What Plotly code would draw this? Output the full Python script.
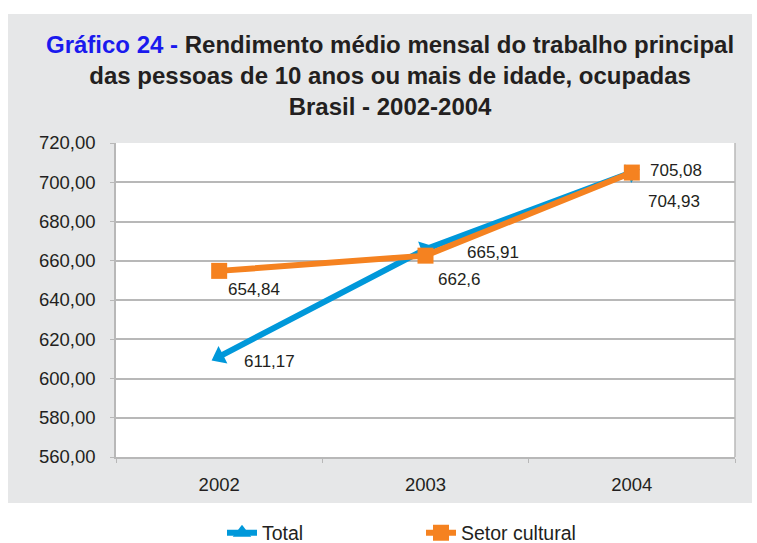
import plotly.graph_objects as go

years = ["2002", "2003", "2004"]
total = [611.17, 665.91, 705.08]
cultural = [654.84, 662.6, 704.93]
total_labels = ["611,17", "665,91", "705,08"]
cultural_labels = ["654,84", "662,6", "704,93"]
y_ticks = [560, 580, 600, 620, 640, 660, 680, 700, 720]
y_tick_text = ["560,00", "580,00", "600,00", "620,00", "640,00", "660,00", "680,00", "700,00", "720,00"]

BLUE = "#0098da"
ORANGE = "#f58220"
TXT = "#231f20"
GRAY = "#e6e7e8"
AX = "#b8b8b8"
FONT = "Liberation Sans, Arial, sans-serif"

W, H = 757, 543
L, R, T, B = 116, 22, 143, 86
pw, ph = W - L - R, H - T - B

def px_x(p):
    return (p - L) / pw

def px_y(p):
    return (H - B - p) / ph

fig = go.Figure()
fig.add_trace(go.Scatter(
    x=years, y=total, name="Total", mode="lines+markers", showlegend=False,
    line=dict(color=BLUE, width=6),
    marker=dict(symbol="triangle-up", size=17, color=BLUE, angle=[243, 70, 70]),
))
fig.add_trace(go.Scatter(
    x=years, y=cultural, name="Setor cultural", mode="lines+markers", showlegend=False,
    line=dict(color=ORANGE, width=6),
    marker=dict(symbol="square", size=16, color=ORANGE),
))
# legend entries (unrotated symbols)
fig.add_trace(go.Scatter(x=[None], y=[None], name="Total", mode="lines+markers",
                         line=dict(color=BLUE, width=6),
                         marker=dict(symbol="triangle-up", size=17, color=BLUE, angle=0)))
fig.add_trace(go.Scatter(x=[None], y=[None], name="Setor cultural", mode="lines+markers",
                         line=dict(color=ORANGE, width=6),
                         marker=dict(symbol="square", size=16, color=ORANGE)))

# data labels (offsets per point); x given as category index
t_off = [(23, -5), (39, -3), (16, 2)]
c_off = [(7, -19), (10, -24), (14, -29)]
for i, yr in enumerate(years):
    fig.add_annotation(x=i, y=total[i], text=total_labels[i], showarrow=False,
                       xanchor="left", yanchor="middle", xshift=t_off[i][0], yshift=t_off[i][1],
                       font=dict(size=17, color=TXT, family=FONT))
    fig.add_annotation(x=i, y=cultural[i], text=cultural_labels[i], showarrow=False,
                       xanchor="left", yanchor="middle", xshift=c_off[i][0], yshift=c_off[i][1],
                       font=dict(size=17, color=TXT, family=FONT))

fig.add_annotation(
    xref="paper", yref="paper", x=px_x(390), y=px_y(76), xanchor="center", yanchor="middle",
    showarrow=False, align="center",
    text=("<span style='color:#1a1aee'>Gráfico 24 -</span> Rendimento médio mensal do trabalho principal"
          "<br>das pessoas de 10 anos ou mais de idade, ocupadas<br>Brasil - 2002-2004"),
    font=dict(size=24, color=TXT, family=FONT, weight="bold"),
)

fig.update_layout(
    width=W, height=H,
    margin=dict(l=L, r=R, t=T, b=B, autoexpand=False),
    paper_bgcolor="white", plot_bgcolor="white",
    showlegend=True,
    legend=dict(orientation="h", x=px_x(222), y=px_y(533), xanchor="left", yanchor="middle",
                font=dict(size=19.5, color=TXT, family=FONT), entrywidth=154, bgcolor="rgba(0,0,0,0)"),
    shapes=[
        dict(type="rect", xref="paper", yref="paper", x0=px_x(8), x1=px_x(752), y0=px_y(503), y1=px_y(14),
             fillcolor=GRAY, line=dict(width=0), layer="below"),
        dict(type="rect", xref="paper", yref="paper", x0=0, x1=1, y0=0, y1=1,
             fillcolor="white", line=dict(width=0), layer="below"),
        dict(type="line", xref="paper", yref="paper", x0=1, x1=1, y0=0, y1=1,
             line=dict(color=AX, width=1.5), layer="below"),
    ],
    xaxis=dict(type="category", range=[-0.5, 2.5], autorange=False, showgrid=False, showline=True,
               linecolor=AX, linewidth=1.5,
               ticks="outside", ticklen=4, tickcolor=AX, tickson="boundaries", tickangle=0,
               tickfont=dict(size=18.5, color=TXT, family=FONT), ticklabelstandoff=10),
    yaxis=dict(range=[560, 720], tickvals=y_ticks, ticktext=y_tick_text, showgrid=True,
               gridcolor=AX, gridwidth=1.5, showline=True, linecolor=AX, linewidth=1.5,
               ticks="outside", ticklen=4, tickcolor=AX, zeroline=False,
               tickfont=dict(size=18.5, color=TXT, family=FONT), ticklabelstandoff=11),
)

fig.write_html("out.html", config={"displayModeBar": False},
               post_script="document.body.style.margin='0';")
